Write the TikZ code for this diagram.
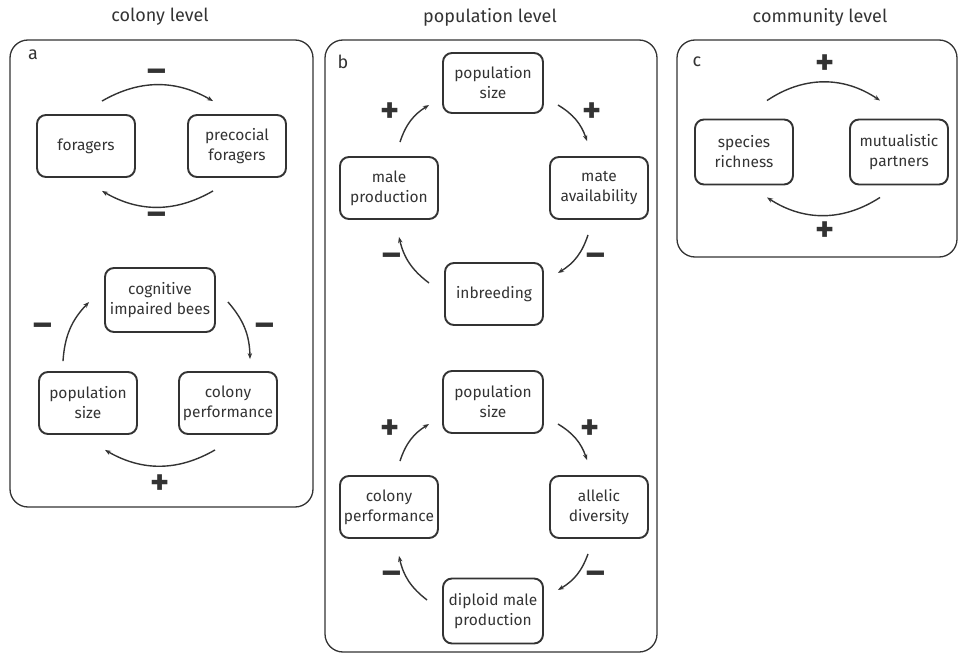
\documentclass[tikz,border=0pt]{standalone}
\usepackage{fontspec}
\setmainfont{Fira Sans}
\usetikzlibrary{arrows.meta}
\begin{document}
\begin{tikzpicture}[x=1pt,y=-1pt,>={Stealth[length=6pt,width=4.5pt]},color=black!80,
	panel/.style={draw,line width=1.3pt,rounded corners=18pt},
	box/.style={draw,line width=1.9pt,rounded corners=9pt,minimum width=98pt,minimum height=62pt,align=center,inner sep=1pt,font=\fontsize{15.5}{20}\selectfont},
	arr/.style={->,line width=1.4pt},
	sgn/.style={font=\fontsize{36}{36}\selectfont\bfseries,inner sep=0pt},
	ttl/.style={font=\fontsize{18}{20}\selectfont}]
		\useasboundingbox (0,0) rectangle (959,655);
		% panels
		\draw[panel] (10,40) rectangle (313,507);
		\draw[panel] (325,40) rectangle (657,652);
		\draw[panel] (677,40) rectangle (957,257);
		\node[ttl] (ta) at (160,17) {colony level};
		\node[ttl] (tb) at (490,17) {population level};
		\node[ttl] (tc) at (820,17) {community level};
		\node[ttl] (la) at (33,55) {a};
		\node[ttl] (lb) at (343,62) {b};
		\node[ttl] (lc) at (697,62) {c};
		% a
		\node[box] (forag) at (86,146) {foragers};
		\node[box] (preco) at (237,146) {precocial\\foragers};
		\draw[arr] ([xshift=16,yshift=13]forag.north) to[bend left=30] ([xshift=-24,yshift=13]preco.north);
		\draw[arr] ([xshift=-24,yshift=-13]preco.south) to[bend left=30] ([xshift=16,yshift=-13]forag.south);
		\node[sgn] (s1) at (157,76) {–};
		\node[sgn] (s2) at (157,219) {–};
		\node[box,minimum width=110pt,minimum height=64pt] (cog) at (160,300) {cognitive\\impaired bees};
		\node[box] (popa) at (88,403) {population\\size};
		\node[box] (perfa) at (228,403) {colony\\performance};
		\draw[arr] ([xshift=-25,yshift=10]popa.north) to[bend left=20] ([xshift=-15,yshift=-2]cog.west);
		\draw[arr] ([xshift=12,yshift=-2]cog.east) to[bend left=20] ([xshift=22,yshift=12]perfa.north);
		\draw[arr] ([xshift=-13,yshift=-15]perfa.south) to[bend left=30] ([xshift=17,yshift=-15]popa.south);
		\node[sgn] (s3) at (43,330) {–};
		\node[sgn] (s4) at (265,330) {–};
		\node[sgn] (s5) at (160,485) {+};
		% b
		\node[box,minimum width=100pt,minimum height=60pt] (popb) at (493,83) {population\\size};
		\node[box] (male) at (389,188) {male\\production};
		\node[box] (mate) at (599,188) {mate\\availability};
		\node[box] (inbr) at (494,294) {inbreeding};
		\draw[arr] ([xshift=11,yshift=14]male.north) to[bend left=20] ([xshift=-13,yshift=-22]popb.west);
		\draw[arr] ([xshift=14,yshift=-22]popb.east) to[bend left=20] ([xshift=-12,yshift=15]mate.north);
		\draw[arr] ([xshift=-11,yshift=-15]mate.south) to[bend left=20] ([xshift=14,yshift=21]inbr.east);
		\draw[arr] ([xshift=-15,yshift=11]inbr.west) to[bend left=20] ([xshift=10,yshift=-17]male.south);
		\node[sgn] (s6) at (390,113) {+};
		\node[sgn] (s7) at (592,113) {+};
		\node[sgn] (s8) at (596,260) {–};
		\node[sgn] (s9) at (392,260) {–};
		\node[box,minimum width=100pt] (popc) at (493,402) {population\\size};
		\node[box] (perfb) at (389,507) {colony\\performance};
		\node[box] (alle) at (599,507) {allelic\\diversity};
		\node[box,minimum width=100pt,minimum height=65pt] (dipl) at (493,611) {diploid male\\production};
		\draw[arr] ([xshift=11,yshift=14]perfb.north) to[bend left=20] ([xshift=-13,yshift=-22]popc.west);
		\draw[arr] ([xshift=14,yshift=-22]popc.east) to[bend left=20] ([xshift=-12,yshift=15]alle.north);
		\draw[arr] ([xshift=-11,yshift=-15]alle.south) to[bend left=20] ([xshift=14,yshift=21]dipl.east);
		\draw[arr] ([xshift=-15,yshift=11]dipl.west) to[bend left=20] ([xshift=10,yshift=-17]perfb.south);
		\node[sgn] (s10) at (390,430) {+};
		\node[sgn] (s11) at (590,430) {+};
		\node[sgn] (s12) at (596,578) {–};
		\node[sgn] (s13) at (392,578) {–};
		% c
		\node[box,minimum height=65pt] (spec) at (744,152) {species\\richness};
		\node[box,minimum height=65pt] (mutu) at (899,152) {mutualistic\\partners};
		\draw[arr] ([xshift=23,yshift=18]spec.north) to[bend left=34] ([xshift=-19,yshift=18]mutu.north);
		\draw[arr] ([xshift=-19,yshift=-12]mutu.south) to[bend left=33] ([xshift=23,yshift=-12]spec.south);
		\node[sgn] (s14) at (825,65) {+};
		\node[sgn] (s15) at (825,232) {+};
\end{tikzpicture}
\end{document}
